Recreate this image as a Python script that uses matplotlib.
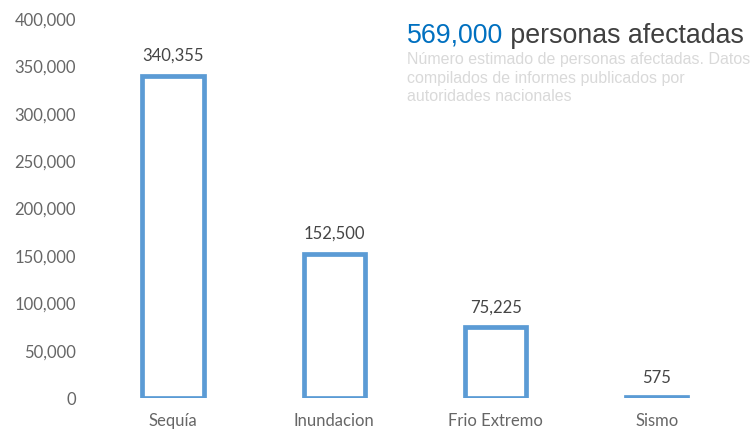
import numpy as np
import matplotlib.pyplot as plt
from matplotlib.ticker import FuncFormatter

# datos
categorias = ["Sequía", "Inundacion", "Frio Extremo", "Sismo"]
personas = [340355, 152500, 75225, 575]
total_txt = "569,000"
titulo_txt = " personas afectadas"
subtitulo = ("Número estimado de personas afectadas. Datos\n"
             "compilados de informes publicados por\n"
             "autoridades nacionales")
yticks = [0, 50000, 100000, 150000, 200000, 250000, 300000, 350000, 400000]

azul = "#5B9BD5"
gris = "#666666"

plt.rcParams['font.family'] = ['Lato', 'DejaVu Sans']

fig = plt.figure(figsize=(7.53, 4.30), dpi=100)
ax = fig.add_axes([0.1228, 0.0744, 0.8566, 0.8814])

x = np.arange(len(categorias))
ax.bar(x, personas, width=0.38, facecolor="white", edgecolor=azul, linewidth=3.4)

# etiquetas de valor sobre cada barra
for xi, v in zip(x, personas):
    ax.annotate("{:,}".format(v), xy=(xi, v), xytext=(0, 14), textcoords="offset points",
                ha="center", va="center", fontsize=12, color="#454545")

ax.set_xlim(-0.5, 3.5)
ax.set_ylim(0, 400000)
ax.set_yticks(yticks)
ax.yaxis.set_major_formatter(FuncFormatter(lambda v, p: "{:,}".format(int(v))))
ax.set_xticks(x)
ax.set_xticklabels(categorias)
ax.tick_params(axis="both", length=0, labelsize=12, labelcolor=gris)
ax.tick_params(axis="y", pad=12)
ax.tick_params(axis="x", pad=11)
for s in ax.spines.values():
    s.set_visible(False)

# titulo
t1 = fig.text(407 / 753, 1 - 36 / 430, total_txt, fontsize=19.3, color="#0070C0",
              family="Liberation Sans", ha="left", va="center")
ax.annotate(titulo_txt, xy=(1, 0.5), xycoords=t1, ha="left", va="center",
            fontsize=19.3, color="#404040", family="Liberation Sans")
fig.text(407 / 753, 1 - 52 / 430, subtitulo, fontsize=11.5, color="#D9D9D9",
         family="Liberation Sans", ha="left", va="top", linespacing=1.3)

plt.savefig("out.png", dpi=100)
